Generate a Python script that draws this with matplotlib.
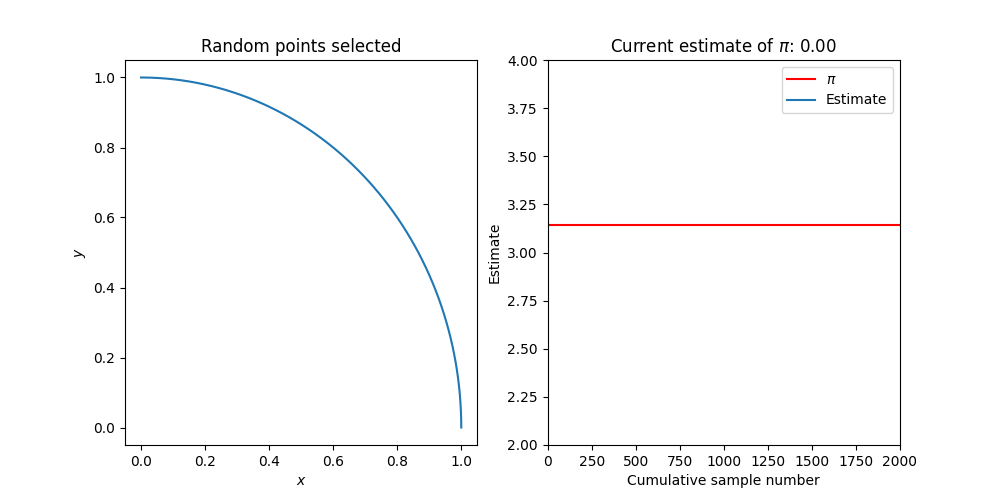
import matplotlib

matplotlib.use("Agg")
import matplotlib.pyplot as plt
import numpy as np

# quarter of the unit circle, drawn from the angle
radius = 1.0
theta = np.linspace(0, np.pi / 2, 200)

pi_value = np.pi
estimate_samples = []
estimate_values = []
current_estimate = 0.00

sample_limits = [0, 2000]
estimate_limits = [2, 4]

fig, (ax_pts, ax_est) = plt.subplots(1, 2, figsize=(10, 5))

ax_pts.plot(radius * np.cos(theta), radius * np.sin(theta))
ax_pts.set_title("Random points selected")
ax_pts.set_xlabel("$x$")
ax_pts.set_ylabel("$y$")

ax_est.axhline(pi_value, color="red", label=r"$\pi$")
ax_est.plot(estimate_samples, estimate_values, label="Estimate")
ax_est.set_xlim(*sample_limits)
ax_est.set_ylim(*estimate_limits)
ax_est.set_title(rf"Current estimate of $\pi$: {current_estimate:.2f}")
ax_est.set_xlabel("Cumulative sample number")
ax_est.set_ylabel("Estimate")
ax_est.legend()

fig.savefig("out.png", dpi=100)
plt.close(fig)
